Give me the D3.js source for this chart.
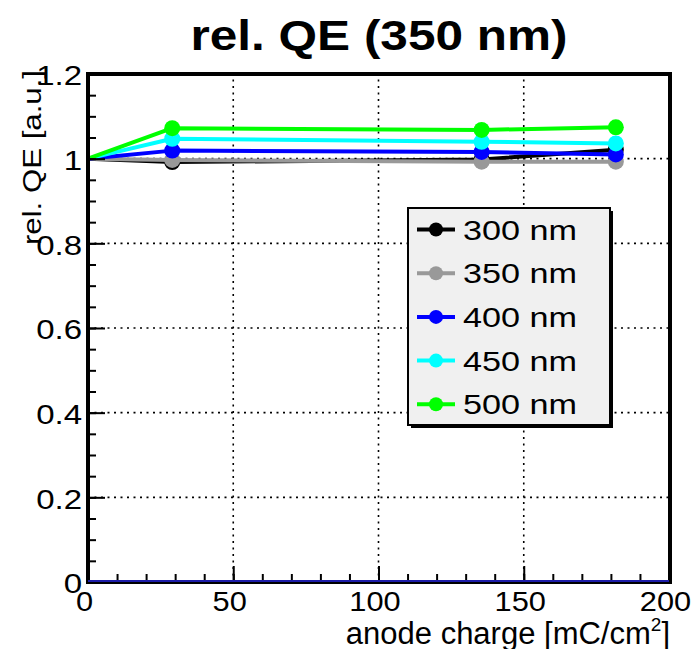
<!DOCTYPE html>
<html>
<head>
<meta charset="utf-8">
<script src="https://cdn.jsdelivr.net/npm/d3@7"></script>
<style>
  body { margin: 0; background: #fff; }
  svg { display: block; font-family: "Liberation Sans", Arial, Helvetica, sans-serif; }
</style>
</head>
<body>
<svg id="chart" width="694" height="649"></svg>
<script>
// Anode charge at which QE was measured [mC/cm^2]
const charge = [0, 29, 135.5, 181.7];

// Relative QE per wavelength, normalised to the first measurement
const qe300 = [1, 0.992, 0.998, 1.021];
const qe350 = [1, 0.997, 0.993, 0.993];
const qe400 = [1, 1.019, 1.016, 1.010];
const qe450 = [1, 1.047, 1.040, 1.036];
const qe500 = [1, 1.072, 1.068, 1.074];

const seriesNames  = ["300 nm", "350 nm", "400 nm", "450 nm", "500 nm"];
const seriesColors = ["#000000", "#999999", "#0000ff", "#00ffff", "#00ff00"];
const seriesValues = [qe300, qe350, qe400, qe450, qe500];

// Flat reference line along the x axis
const zeroLineX = [0, 200];
const zeroLineY = [0, 0];

const xTicks = [0, 50, 100, 150, 200];
const xTickLabels = ["0", "50", "100", "150", "200"];
const xMinorTicks = d3.range(0, 201, 10);
const yTicks = [0, 0.2, 0.4, 0.6, 0.8, 1.0, 1.2];
const yTickLabels = ["0", "0.2", "0.4", "0.6", "0.8", "1", "1.2"];
const yMinorTicks = d3.range(0, 25).map(i => i * 0.05);

const titleText = "rel. QE (350 nm)";
const yTitle = "rel. QE [a.u.]";

const svg = d3.select("#chart");
const W = 694, H = 649;
const frame = { left: 88, right: 670, top: 74, bottom: 582 };

const x = d3.scaleLinear().domain([0, 200]).range([frame.left, frame.right - 1]);
const y = d3.scaleLinear().domain([0, 1.2]).range([frame.bottom, frame.top]);

svg.append("rect").attr("width", W).attr("height", H).attr("fill", "#fff");

// Dotted grid
const grid = svg.append("g").attr("stroke", "#000").attr("stroke-width", 1.6)
  .attr("stroke-dasharray", "2,4.5").attr("fill", "none");
grid.selectAll("line.gx").data(xTicks.slice(1)).join("line")
  .attr("x1", d => x(d)).attr("x2", d => x(d))
  .attr("y1", frame.bottom).attr("y2", frame.top);
grid.selectAll("line.gy").data(yTicks.slice(1)).join("line")
  .attr("x1", frame.left).attr("x2", frame.right)
  .attr("y1", d => y(d)).attr("y2", d => y(d));

// Data: line then markers for each wavelength
const line = d3.line().x(d => x(d[0])).y(d => y(d[1]));
seriesValues.forEach((vals, i) => {
  const pts = charge.map((c, k) => [c, vals[k]]);
  const g = svg.append("g");
  g.append("path").attr("d", line(pts))
    .attr("fill", "none").attr("stroke", seriesColors[i]).attr("stroke-width", 4)
    .attr("stroke-linejoin", "round");
  g.selectAll("circle").data(pts.filter(p => p[0] > 0)).join("circle")
    .attr("cx", d => x(d[0])).attr("cy", d => y(d[1])).attr("r", 8)
    .attr("fill", seriesColors[i]);
});

// Axes (ticks pointing into the frame)
const xMajor = d3.axisBottom(x).tickValues(xTicks).tickSizeInner(-16).tickSizeOuter(0)
  .tickFormat((d, i) => xTickLabels[i]);
const xMinor = d3.axisBottom(x).tickValues(xMinorTicks).tickSizeInner(-8).tickSizeOuter(0)
  .tickFormat("");
const yMajor = d3.axisLeft(y).tickValues(yTicks).tickSizeInner(-17).tickSizeOuter(0)
  .tickPadding(6).tickFormat((d, i) => yTickLabels[i]);
const yMinor = d3.axisLeft(y).tickValues(yMinorTicks).tickSizeInner(-8).tickSizeOuter(0)
  .tickFormat("");

function styleAxis(g) {
  g.select(".domain").remove();
  g.selectAll(".tick line").attr("stroke", "#000").attr("stroke-width", 2);
  g.selectAll("text").attr("fill", "#000").attr("font-size", 27.5).attr("font-family", null);
}

svg.append("g").attr("transform", `translate(0,${frame.bottom})`).call(xMinor).call(styleAxis);
const gx = svg.append("g").attr("transform", `translate(0,${frame.bottom})`).call(xMajor).call(styleAxis);
gx.selectAll("text").attr("y", 0).attr("dy", 0)
  .attr("transform", "translate(-4,29) scale(1.12,1)");

svg.append("g").attr("transform", `translate(${frame.left},0)`).call(yMinor).call(styleAxis);
const gy = svg.append("g").attr("transform", `translate(${frame.left},0)`).call(yMajor).call(styleAxis);
gy.selectAll("text").attr("x", 0).attr("dy", "0.36em")
  .attr("transform", "translate(-6,1) scale(1.2,1)");

// Frame
svg.append("rect")
  .attr("x", frame.left).attr("y", frame.top)
  .attr("width", frame.right - frame.left).attr("height", frame.bottom - frame.top)
  .attr("fill", "none").attr("stroke", "#000").attr("stroke-width", 4);

// Reference line on the x axis
svg.append("path")
  .attr("d", line(zeroLineX.map((c, k) => [c, zeroLineY[k]])))
  .attr("transform", "translate(0,-1)")
  .attr("stroke", "#1c1ca8").attr("stroke-width", 2).attr("fill", "none");

// Title
svg.append("text")
  .attr("transform", "translate(379,50) scale(1.18,1)")
  .attr("text-anchor", "middle").attr("font-weight", "bold").attr("font-size", 42)
  .text(titleText);

// Axis titles
const xt = svg.append("text")
  .attr("transform", "translate(670,644)")
  .attr("text-anchor", "end").attr("font-size", 31);
xt.append("tspan").text("anode charge [mC/cm");
xt.append("tspan").attr("font-size", 19).attr("dy", -13).text("2");
xt.append("tspan").attr("dy", 13).text("]");

svg.append("text")
  .attr("transform", "translate(41,70) rotate(-90) scale(1.2,1)")
  .attr("text-anchor", "end").attr("font-size", 26)
  .text(yTitle);

// Legend
const leg = { x: 408, y: 208, w: 202, h: 217, rowY0: 229.5, rowStep: 43.7 };
svg.append("rect")
  .attr("x", leg.x + 3).attr("y", leg.y + 3).attr("width", leg.w).attr("height", leg.h)
  .attr("fill", "#000");
svg.append("rect")
  .attr("x", leg.x).attr("y", leg.y).attr("width", leg.w).attr("height", leg.h)
  .attr("fill", "#f0f0f0").attr("stroke", "#000").attr("stroke-width", 2);
const rows = svg.append("g").selectAll("g").data(seriesNames).join("g")
  .attr("transform", (d, i) => `translate(0,${leg.rowY0 + i * leg.rowStep})`);
rows.append("line").attr("x1", 417).attr("x2", 455).attr("y1", 0).attr("y2", 0)
  .attr("stroke", (d, i) => seriesColors[i]).attr("stroke-width", 4);
rows.append("circle").attr("cx", 436).attr("cy", 0).attr("r", 7)
  .attr("fill", (d, i) => seriesColors[i]);
rows.append("text")
  .attr("transform", "translate(463,10) scale(1.2,1)")
  .attr("font-size", 28.5).attr("fill", "#000")
  .text(d => d);
</script>
</body>
</html>
